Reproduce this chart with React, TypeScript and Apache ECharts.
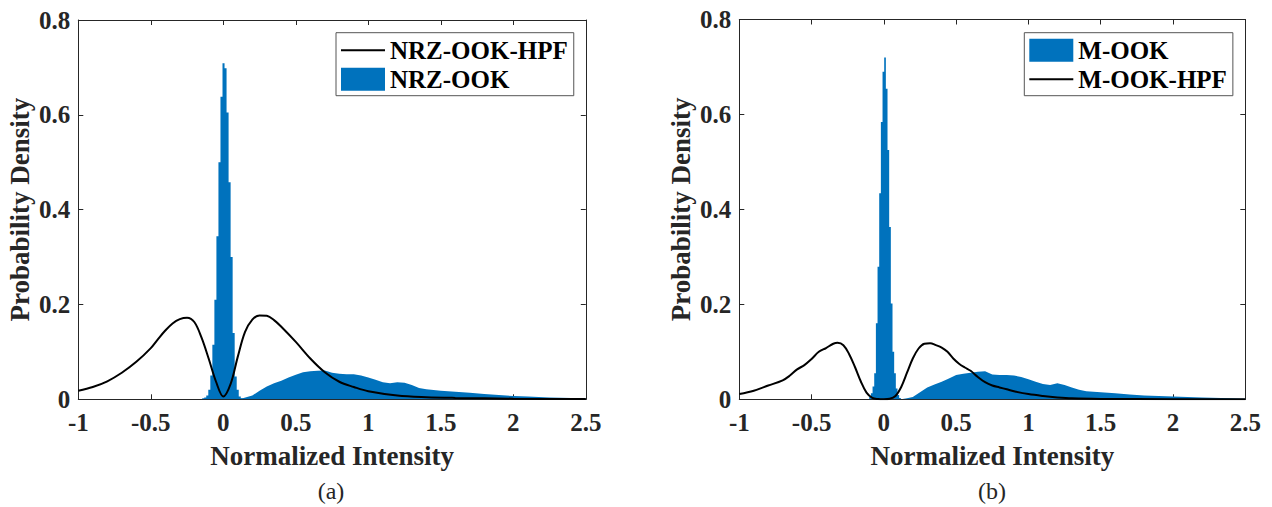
import React, { useEffect, useRef } from "react";
import * as echarts from "echarts";

// ---------- data ----------
const X_MIN = -1;
const X_MAX = 2.5;
const X_STEP = 0.5;
const Y_MIN = 0;
const Y_MAX = 0.8;
const Y_STEP = 0.2;

// (a) NRZ-OOK-HPF kernel density
const hpfA_x = [-1.0, -0.9, -0.8, -0.7, -0.6, -0.5, -0.45, -0.4, -0.35, -0.3, -0.25, -0.2, -0.15, -0.1, -0.05, 0.0, 0.05, 0.1, 0.15, 0.2, 0.25, 0.3, 0.35, 0.4, 0.5, 0.6, 0.7, 0.8, 0.9, 1.0, 1.2, 1.4, 1.6, 2.0, 2.5];
const hpfA_y = [0.018, 0.026, 0.038, 0.056, 0.079, 0.108, 0.127, 0.145, 0.160, 0.169, 0.172, 0.163, 0.130, 0.085, 0.037, 0.006, 0.032, 0.090, 0.142, 0.168, 0.177, 0.176, 0.167, 0.153, 0.121, 0.086, 0.057, 0.037, 0.026, 0.017, 0.008, 0.0045, 0.003, 0.0013, 0.0005];

// (a) NRZ-OOK histogram: narrow "0" peak (bin centres / heights)
const peakA_x = [-0.1525, -0.1385, -0.1245, -0.1105, -0.0965, -0.0825, -0.0685, -0.0545, -0.0405, -0.0265, -0.0125, 0.0015, 0.0155, 0.0295, 0.0435, 0.0575, 0.0715, 0.0855, 0.0995, 0.1135, 0.1275, 0.1415];
const peakA_y = [0.0, 0.002, 0.004, 0.008, 0.020, 0.050, 0.115, 0.210, 0.344, 0.500, 0.638, 0.709, 0.698, 0.605, 0.458, 0.300, 0.140, 0.048, 0.020, 0.006, 0.002, 0.0];
// (a) NRZ-OOK histogram: broad "1" level
const broadA_x = [0.12, 0.14, 0.2, 0.25, 0.3, 0.35, 0.4, 0.45, 0.5, 0.55, 0.6, 0.65, 0.7, 0.75, 0.8, 0.85, 0.9, 0.95, 1.0, 1.05, 1.1, 1.15, 1.2, 1.25, 1.3, 1.35, 1.4, 1.5, 1.6, 1.7, 1.8, 1.9, 2.0, 2.1, 2.25, 2.4, 2.5];
const broadA_y = [0.001, 0.003, 0.008, 0.018, 0.027, 0.034, 0.039, 0.046, 0.052, 0.057, 0.059, 0.060, 0.061, 0.056, 0.054, 0.053, 0.053, 0.050, 0.046, 0.041, 0.036, 0.034, 0.036, 0.035, 0.030, 0.024, 0.021, 0.018, 0.016, 0.014, 0.011, 0.009, 0.007, 0.006, 0.004, 0.003, 0.002];

// (b) M-OOK-HPF kernel density
const hpfB_x = [-1.0, -0.9, -0.8, -0.7, -0.65, -0.6, -0.55, -0.5, -0.45, -0.4, -0.35, -0.32, -0.28, -0.24, -0.2, -0.16, -0.12, -0.08, -0.04, 0.0, 0.04, 0.08, 0.12, 0.16, 0.2, 0.24, 0.28, 0.32, 0.36, 0.4, 0.44, 0.48, 0.52, 0.56, 0.6, 0.65, 0.7, 0.75, 0.8, 0.85, 0.9, 1.0, 1.1, 1.2, 1.3, 1.5, 2.0, 2.5];
const hpfB_y = [0.011, 0.018, 0.029, 0.040, 0.050, 0.063, 0.072, 0.085, 0.100, 0.108, 0.117, 0.119, 0.114, 0.095, 0.068, 0.038, 0.014, 0.003, 0.0005, 0.0, 0.001, 0.007, 0.026, 0.056, 0.086, 0.107, 0.117, 0.118, 0.114, 0.109, 0.100, 0.086, 0.075, 0.067, 0.060, 0.047, 0.036, 0.029, 0.025, 0.021, 0.017, 0.011, 0.007, 0.004, 0.002, 0.0008, 0.0002, 0.0];

// (b) M-OOK histogram: narrow "0" peak
const peakB_x = [-0.107, -0.0955, -0.084, -0.0725, -0.061, -0.0495, -0.038, -0.0265, -0.015, -0.0035, 0.008, 0.0195, 0.031, 0.0425, 0.054, 0.0655, 0.077, 0.0885, 0.1, 0.1115, 0.123];
const peakB_y = [0.0, 0.005, 0.013, 0.027, 0.055, 0.160, 0.279, 0.434, 0.584, 0.690, 0.720, 0.654, 0.525, 0.363, 0.202, 0.100, 0.055, 0.023, 0.009, 0.003, 0.0];
// (b) M-OOK histogram: broad "1" level
const broadB_x = [0.12, 0.16, 0.2, 0.25, 0.3, 0.35, 0.4, 0.45, 0.5, 0.55, 0.6, 0.65, 0.7, 0.75, 0.8, 0.85, 0.9, 0.95, 1.0, 1.05, 1.1, 1.15, 1.2, 1.25, 1.3, 1.35, 1.4, 1.5, 1.6, 1.7, 1.8, 1.9, 2.0, 2.2, 2.4, 2.5];
const broadB_y = [0.0, 0.002, 0.005, 0.015, 0.025, 0.031, 0.037, 0.044, 0.051, 0.054, 0.056, 0.058, 0.059, 0.052, 0.051, 0.051, 0.050, 0.047, 0.042, 0.037, 0.032, 0.030, 0.034, 0.030, 0.025, 0.020, 0.017, 0.015, 0.013, 0.010, 0.008, 0.007, 0.006, 0.004, 0.002, 0.001];

const X_TITLE = "Normalized Intensity";
const Y_TITLE = "Probability Density";

// ---------- styling ----------
const FONT = "Liberation Serif";
const BLUE = "#0072BD";
const AX = "#262626";

const zip = (xs: number[], ys: number[]) => xs.map((x, i) => [x, ys[i]]);

export default function App() {
  const ref = useRef<HTMLDivElement>(null);

  useEffect(() => {
    if (!ref.current) return;
    const chart = echarts.init(ref.current, undefined, { renderer: "svg" });

    const grids = [
      { left: 78.3, top: 20, width: 507.5, height: 379.3 },
      { left: 739.3, top: 19.5, width: 506, height: 379.8 },
    ];

    const tick = { show: true, inside: true, length: 5, lineStyle: { color: AX, width: 1 } };
    const line = { show: true, onZero: false, lineStyle: { color: AX, width: 1 } };
    const labelFont = { fontFamily: FONT, fontWeight: "bold" as const, fontSize: 25, color: AX };
    const nameFont = { fontFamily: FONT, fontWeight: "bold" as const, fontSize: 27, color: AX };

    const xAxes: any[] = [];
    const yAxes: any[] = [];
    [0, 1].forEach((g) => {
      xAxes.push({
        type: "value", gridIndex: g, position: "bottom", min: X_MIN, max: X_MAX, interval: X_STEP,
        axisLine: line, axisTick: tick, splitLine: { show: false },
        axisLabel: { ...labelFont, margin: 11 },
        name: X_TITLE, nameLocation: "middle", nameGap: 43, nameTextStyle: nameFont,
      });
      xAxes.push({
        type: "value", gridIndex: g, position: "top", min: X_MIN, max: X_MAX, interval: X_STEP,
        axisLine: line, axisTick: tick, splitLine: { show: false }, axisLabel: { show: false },
      });
      yAxes.push({
        type: "value", gridIndex: g, position: "left", min: Y_MIN, max: Y_MAX, interval: Y_STEP,
        axisLine: line, axisTick: tick, splitLine: { show: false },
        axisLabel: { ...labelFont, margin: 8, formatter: (v: number) => (v === 0 ? "0" : v.toFixed(1)) },
        name: Y_TITLE, nameLocation: "middle", nameGap: 45, nameTextStyle: nameFont,
      });
      yAxes.push({
        type: "value", gridIndex: g, position: "right", min: Y_MIN, max: Y_MAX, interval: Y_STEP,
        axisLine: line, axisTick: tick, splitLine: { show: false }, axisLabel: { show: false },
      });
    });

    const histSeries = (name: string, data: number[][], xi: number, yi: number, step: boolean) => ({
      name, type: "line", xAxisIndex: xi, yAxisIndex: yi, data,
      step: step ? "middle" : false, symbol: "none", showSymbol: false,
      color: BLUE, itemStyle: { color: BLUE },
      lineStyle: { width: 0, color: BLUE },
      areaStyle: { color: BLUE, opacity: 1 }, z: 2, silent: true,
    });
    const hpfSeries = (name: string, data: number[][], xi: number, yi: number) => ({
      name, type: "line", xAxisIndex: xi, yAxisIndex: yi, data,
      smooth: 0.35, symbol: "none", showSymbol: false,
      color: "#000", itemStyle: { color: "#000" },
      lineStyle: { width: 2, color: "#000" }, z: 5, silent: true,
    });

    const legendBase = {
      orient: "vertical", padding: [5, 6, 4, 4], itemGap: 4, itemWidth: 44, itemHeight: 23,
      borderColor: "#555", borderWidth: 1, backgroundColor: "#fff", borderRadius: 0,
      textStyle: { fontFamily: FONT, fontWeight: "bold", fontSize: 25, color: "#000" },
      selectedMode: false,
    };
    const lineItem = (name: string) => ({
      name, itemStyle: { opacity: 0, color: "transparent", borderWidth: 0 },
      lineStyle: { color: "#000", width: 2 },
    });

    chart.setOption({
      animation: false,
      backgroundColor: "#fff",
      grid: grids,
      xAxis: xAxes,
      yAxis: yAxes,
      legend: [
        {
          ...legendBase, left: 336, top: 32.7,
          data: [
            lineItem("NRZ-OOK-HPF"),
            { name: "NRZ-OOK", icon: "rect", itemStyle: { color: BLUE } },
          ],
        },
        {
          ...legendBase, left: 1024.3, top: 32.7,
          data: [
            { name: "M-OOK", icon: "rect", itemStyle: { color: BLUE } },
            lineItem("M-OOK-HPF"),
          ],
        },
      ],
      series: [
        histSeries("NRZ-OOK", zip(peakA_x, peakA_y), 0, 0, true),
        histSeries("NRZ-OOK", zip(broadA_x, broadA_y), 0, 0, false),
        hpfSeries("NRZ-OOK-HPF", zip(hpfA_x, hpfA_y), 0, 0),
        histSeries("M-OOK", zip(peakB_x, peakB_y), 2, 2, true),
        histSeries("M-OOK", zip(broadB_x, broadB_y), 2, 2, false),
        hpfSeries("M-OOK-HPF", zip(hpfB_x, hpfB_y), 2, 2),
      ],
      graphic: [
        {
          type: "text", x: 331, y: 491,
          style: { text: "(a)", fontFamily: FONT, fontSize: 24, fill: AX, align: "center", verticalAlign: "middle", textAlign: "center", textVerticalAlign: "middle" },
        },
        {
          type: "text", x: 992, y: 491,
          style: { text: "(b)", fontFamily: FONT, fontSize: 24, fill: AX, align: "center", verticalAlign: "middle", textAlign: "center", textVerticalAlign: "middle" },
        },
      ],
    });

    return () => chart.dispose();
  }, []);

  return (
    <div
      ref={ref}
      style={{ position: "absolute", left: 0, top: 0, width: 1272, height: 507, background: "#fff" }}
    />
  );
}
